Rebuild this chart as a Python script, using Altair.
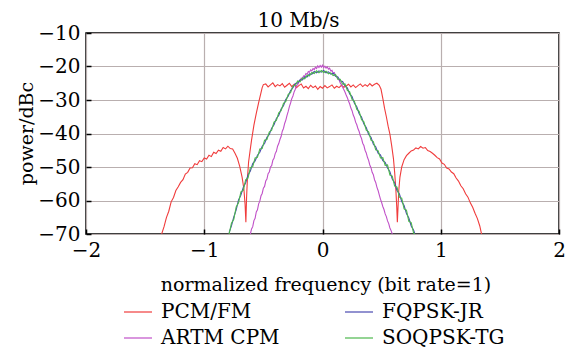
import altair as alt
import pandas as pd

# ---------------- data ----------------
pcm_f = [-1.36, -1.34, -1.32, -1.30, -1.28, -1.26, -1.24, -1.22, -1.20, -1.18, -1.16, -1.14, -1.12, -1.10,
         -1.08, -1.06, -1.04, -1.02, -1.00, -0.98, -0.96, -0.94, -0.92, -0.90, -0.88, -0.86, -0.84, -0.82,
         -0.80, -0.78, -0.76, -0.74, -0.72, -0.70, -0.68, -0.665, -0.655, -0.648, -0.642, -0.635, -0.625,
         -0.61, -0.60, -0.58, -0.56, -0.54, -0.52, -0.51, -0.50,
         -0.48, -0.46, -0.44, -0.42, -0.40, -0.38, -0.36, -0.34, -0.32, -0.30, -0.28, -0.26, -0.24, -0.22,
         -0.20, -0.18, -0.16, -0.14, -0.12, -0.10, -0.08, -0.06, -0.04, -0.02, 0.00, 0.02, 0.04, 0.06, 0.08,
         0.10, 0.12, 0.14, 0.16, 0.18, 0.20, 0.22, 0.24, 0.26, 0.28, 0.30, 0.32, 0.34, 0.36, 0.38, 0.40,
         0.42, 0.44, 0.46, 0.48,
         0.495, 0.51, 0.525, 0.54, 0.555, 0.57, 0.585, 0.60, 0.61, 0.62, 0.628, 0.633, 0.638, 0.645, 0.655,
         0.67, 0.69, 0.71, 0.73, 0.75, 0.77, 0.79, 0.81, 0.83, 0.85, 0.87, 0.89, 0.91, 0.93, 0.95, 0.97,
         0.99, 1.01, 1.03, 1.05, 1.07, 1.09, 1.11, 1.13, 1.15, 1.17, 1.19, 1.21, 1.23, 1.25, 1.27, 1.29,
         1.31, 1.33, 1.345]
pcm_p = [-70.0, -67.8, -65.1, -63.2, -60.4, -59.1, -57.0, -55.9, -54.6, -53.8, -52.1, -51.6, -50.3, -50.2,
         -49.0, -49.3, -48.1, -48.4, -47.3, -47.6, -46.5, -46.9, -45.6, -46.0, -45.0, -45.3, -44.2, -44.6,
         -43.8, -44.5, -44.6, -45.9, -47.4, -49.8, -53.0, -56.5, -61.0, -66.5, -59.0, -53.5, -48.5,
         -44.5, -42.0, -37.5, -34.0, -30.8, -27.8, -26.3, -25.4,
         -25.2, -26.1, -25.5, -24.9, -26.0, -25.4, -25.8, -25.1, -26.2, -25.6, -25.0, -26.0, -25.3, -26.3,
         -25.7, -25.2, -26.4, -25.9, -26.6, -25.6, -26.3, -25.8, -26.8, -26.0, -26.5, -25.7, -26.4, -26.0, -25.5,
         -26.5, -25.9, -26.3, -25.6, -26.2, -25.8, -25.3, -26.1, -25.5, -26.3, -25.7, -25.2, -26.0, -25.4, -25.9,
         -25.1, -25.8, -25.3, -25.0, -25.6,
         -26.8, -29.5, -32.5, -35.0, -37.8, -40.2, -43.6, -47.5, -51.5, -56.5, -62.0, -66.5, -62.5, -57.0, -53.0,
         -50.0, -47.8, -46.6, -45.9, -45.2, -44.9, -44.3, -44.6, -43.9, -44.4, -44.2, -45.1, -45.4, -45.9, -46.5,
         -47.2, -47.6, -48.8, -49.2, -50.3, -50.6, -51.5, -52.0, -53.3, -54.2, -55.6, -56.5, -58.0, -59.0, -60.7,
         -62.0, -63.8, -65.4, -67.6, -70.0]

artm_f = [-0.61, -0.60, -0.59, -0.58, -0.57, -0.56, -0.55, -0.54, -0.53, -0.52, -0.51, -0.50, -0.49, -0.48,
          -0.47, -0.46, -0.45, -0.44, -0.43, -0.42, -0.41, -0.40, -0.39, -0.38, -0.37, -0.36, -0.35, -0.34,
          -0.33, -0.32, -0.31, -0.30, -0.29, -0.28, -0.27, -0.26, -0.25, -0.24, -0.23, -0.22, -0.21, -0.20,
          -0.19, -0.18, -0.17, -0.16, -0.15, -0.14, -0.13, -0.12, -0.11, -0.10, -0.09, -0.08, -0.07, -0.06,
          -0.05, -0.04, -0.03, -0.02, -0.01, 0.00, 0.01, 0.02, 0.03, 0.04, 0.05, 0.06, 0.07, 0.08, 0.09, 0.10,
          0.11, 0.12, 0.13, 0.14, 0.15, 0.16, 0.17, 0.18, 0.19, 0.20, 0.21, 0.22, 0.23, 0.24, 0.25, 0.26, 0.27,
          0.28, 0.29, 0.30, 0.31, 0.32, 0.33, 0.34, 0.35, 0.36, 0.37, 0.38, 0.39, 0.40, 0.41, 0.42, 0.43, 0.44,
          0.45, 0.46, 0.47, 0.48, 0.49, 0.50, 0.51, 0.52, 0.53, 0.54, 0.55, 0.56, 0.57, 0.58, 0.59]
artm_p = [-70.0, -68.5, -67.8, -66.0, -65.3, -63.4, -62.8, -61.0, -60.2, -58.6, -57.9, -56.3, -55.8, -54.2,
          -53.6, -52.0, -51.5, -50.0, -49.6, -48.0, -47.4, -46.0, -45.3, -43.8, -43.0, -41.8, -40.9, -39.3,
          -38.5, -37.0, -36.0, -34.6, -33.4, -32.0, -30.9, -29.6, -28.8, -27.6, -26.8, -25.7, -25.4, -24.6,
          -24.3, -23.5, -23.6, -22.8, -22.9, -22.1, -22.3, -21.5, -21.7, -21.0, -21.3, -20.6, -20.9, -20.2,
          -20.6, -19.8, -20.3, -19.7, -20.2, -19.6, -20.3, -19.9, -20.5, -20.1, -20.8, -20.5, -21.3, -21.1,
          -22.0, -21.8, -22.8, -22.9, -23.8, -24.0, -24.9, -25.4, -26.2, -26.9, -27.6, -28.5, -29.3, -30.3,
          -31.2, -32.4, -33.2, -34.5, -35.3, -36.6, -37.4, -38.6, -39.4, -40.7, -41.5, -42.9, -43.6, -45.0,
          -45.8, -47.1, -48.0, -49.4, -50.2, -51.6, -52.3, -53.8, -54.6, -56.0, -57.0, -58.3, -59.6, -60.6,
          -61.8, -62.7, -64.0, -64.8, -66.1, -66.9, -68.2, -69.0, -70.0]

qpsk_f = [-0.79, -0.77, -0.75, -0.73, -0.71, -0.69, -0.67, -0.65, -0.63, -0.61, -0.59, -0.57, -0.55, -0.53,
          -0.51, -0.49, -0.47, -0.45, -0.43, -0.41, -0.39, -0.37, -0.35, -0.33, -0.31, -0.29, -0.27, -0.25,
          -0.23, -0.21, -0.19, -0.17, -0.15, -0.13, -0.11, -0.09, -0.07, -0.05, -0.03, -0.01, 0.01, 0.03, 0.05,
          0.07, 0.09, 0.11, 0.13, 0.15, 0.17, 0.19, 0.21, 0.23, 0.25, 0.27, 0.29, 0.31, 0.33, 0.35, 0.37, 0.39,
          0.41, 0.43, 0.45, 0.47, 0.49, 0.51, 0.53, 0.55, 0.57, 0.59, 0.61, 0.63, 0.65, 0.67, 0.69, 0.71, 0.73,
          0.75, 0.77, 0.78]
fqpsk_p = [-69.6, -67.6, -64.9, -62.8, -59.8, -58.4, -56.1, -54.7, -52.4, -51.2, -49.0, -48.2, -46.5, -45.6,
           -43.8, -43.0, -41.1, -40.3, -38.4, -37.4, -35.5, -34.6, -32.7, -31.7, -29.8, -28.9, -27.2, -26.3,
           -25.1, -24.9, -24.0, -24.0, -23.1, -23.1, -22.2, -22.3, -21.5, -21.9, -21.3, -21.7, -21.2, -21.9,
           -21.6, -22.3, -22.0, -22.9, -23.1, -24.3, -24.5, -25.8, -26.4, -28.2, -29.0, -31.0, -32.0, -34.1,
           -35.1, -37.2, -38.2, -40.3, -41.1, -43.2, -44.0, -45.9, -46.4, -48.1, -48.6, -50.3, -51.4, -53.6,
           -54.7, -57.0, -58.0, -60.3, -61.5, -63.9, -65.2, -67.6, -68.8, -69.8]
soqpsk_p = [-70.0, -66.8, -65.6, -61.9, -60.7, -57.4, -57.0, -53.8, -53.3, -50.2, -49.9, -47.3, -47.1, -44.6,
            -44.5, -42.0, -41.8, -39.6, -39.0, -36.6, -36.1, -33.8, -33.2, -31.0, -30.4, -28.3, -27.8, -25.8,
            -25.6, -24.3, -24.6, -23.4, -23.7, -22.6, -22.8, -21.8, -22.1, -21.3, -21.9, -21.2, -21.8, -21.4,
            -22.2, -21.9, -22.7, -22.4, -23.8, -23.8, -25.3, -25.2, -27.1, -27.6, -29.8, -30.4, -32.8, -33.4,
            -35.9, -36.5, -39.0, -39.5, -42.0, -42.4, -44.9, -45.1, -47.3, -47.2, -49.5, -49.4, -52.4, -52.7,
            -55.7, -56.0, -59.0, -59.3, -62.5, -62.9, -66.2, -66.6, -69.7, -70.0]

series_names = ["PCM/FM", "ARTM CPM", "FQPSK-JR", "SOQPSK-TG"]
series_colors = ["#f03c3c", "#c050c8", "#4848b0", "#4cb84c"]

x_grid = [-2, -1.5, -1, -0.5, 0, 0.5, 1, 1.5, 2]
y_ticks = [-70, -60, -50, -40, -30, -20, -10]

rows = []
def add(name, fs, ps):
    for i, (f, p) in enumerate(zip(fs, ps)):
        rows.append({"series": name, "f": f, "p": p, "i": i})

add("PCM/FM", pcm_f, pcm_p)
add("ARTM CPM", artm_f, artm_p)
add("FQPSK-JR", qpsk_f, fqpsk_p)
add("SOQPSK-TG", qpsk_f, soqpsk_p)
df = pd.DataFrame(rows)

FONT = "DejaVu Serif"
W = 473

chart = alt.Chart(df).mark_line(strokeWidth=1.1, clip=True).encode(
    x=alt.X("f:Q",
            scale=alt.Scale(domain=[-2, 2], nice=False, zero=False),
            axis=alt.Axis(values=x_grid, format="d",
                          labelExpr="datum.value % 1 === 0 ? datum.label : ''",
                          labelFlush=False, labelOverlap=False,
                          title="normalized frequency (bit rate=1)",
                          titleX=W / 2 + 3, titleY=56, titleBaseline="alphabetic",
                          titleAnchor="middle", titleAlign="center",
                          tickSize={"expr": "-5"}, labelPadding=11,
                          tickOpacity={"condition": {"test": "datum.value % 1 === 0", "value": 1}, "value": 0})),
    y=alt.Y("p:Q",
            scale=alt.Scale(domain=[-70, -10], nice=False, zero=False),
            axis=alt.Axis(values=y_ticks, format="d", labelOverlap=False, labelFlush=False,
                          title="power/dBc",
                          titleX=-60, titleY=100, titleAngle=270,
                          titleAlign="center", titleBaseline="middle",
                          tickSize={"expr": "-5"}, labelPadding=11)),
    color=alt.Color("series:N",
                    scale=alt.Scale(domain=series_names, range=series_colors),
                    legend=alt.Legend(title=None, orient="none", legendX=37, legendY=264,
                                      columns=2, columnPadding=62, rowPadding=1,
                                      symbolType="stroke", symbolSize=784, symbolStrokeWidth=1.2,
                                      labelFont=FONT, labelFontSize=20, labelColor="black",
                                      labelOffset=8, padding=0, labelLimit=300)),
    order="i:Q",
).properties(
    width=W, height=201,
    title=alt.TitleParams("10 Mb/s", font=FONT, fontSize=20, fontWeight="normal",
                          color="black", anchor="middle", dx=-24, dy=11, offset=3, frame="group"),
    autosize=alt.AutoSizeParams(type="none"),
    padding={"left": 78, "top": 25, "right": 7, "bottom": 117},
    background="white",
).configure_view(
    stroke="black", strokeWidth=1.5
).configure_axis(
    domain=False,
    grid=True, gridColor="#b9afaf", gridWidth=1.2,
    tickColor="black", tickWidth=1.5,
    labelFont=FONT, labelFontSize=20, labelColor="black",
    titleFont=FONT, titleFontSize=19, titleFontWeight="normal", titleColor="black",
)

chart.save("out.html", embed_options={"renderer": "svg", "actions": False})
